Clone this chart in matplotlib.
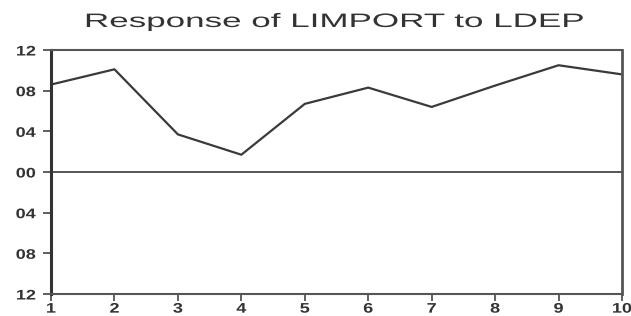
import matplotlib
matplotlib.use("Agg")
import matplotlib.pyplot as plt
from matplotlib import patheffects
from matplotlib.transforms import Affine2D

periods = [1, 2, 3, 4, 5, 6, 7, 8, 9, 10]
response = [0.086, 0.101, 0.037, 0.017, 0.067, 0.083, 0.064, 0.085, 0.105, 0.096]
ytick_vals = [0.12, 0.08, 0.04, 0.00, -0.04, -0.08, -0.12]
ytick_labels = ["12", "08", "04", "00", "04", "08", "12"]
xtick_labels = ["1", "2", "3", "4", "5", "6", "7", "8", "9", "10"]
title = "Response of LIMPORT to LDEP"

plt.rcParams['font.family'] = ['Liberation Sans', 'DejaVu Sans']


class StretchX(patheffects.AbstractPathEffect):
    """Stretch text horizontally around an anchor (left/center/right)."""
    def __init__(self, sx, anchor='center'):
        super().__init__()
        self.sx = sx
        self.anchor = anchor

    def draw_path(self, renderer, gc, tpath, affine, rgbFace=None):
        ext = tpath.get_extents()
        if self.anchor == 'left':
            a = ext.x0
        elif self.anchor == 'right':
            a = ext.x1
        else:
            a = 0.5 * (ext.x0 + ext.x1)
        pre = Affine2D().translate(-a, 0).scale(self.sx, 1).translate(a, 0)
        renderer.draw_path(gc, tpath, pre + affine, rgbFace)


fig = plt.figure(figsize=(6.31, 3.16), dpi=100)
ax = fig.add_axes([51/631, 1 - 294/316, (622 - 51)/631, (294 - 50)/316])

ax.plot(periods, response, color='#3a3a3a', linewidth=1.6)
ax.axhline(0, color='#555555', linewidth=1.4)

ax.set_xlim(1, 10)
ax.set_ylim(-0.12, 0.12)
ax.set_yticks(ytick_vals)
ax.set_yticklabels(ytick_labels, fontsize=10, fontweight='bold', color='#333333')
ax.set_xticks(periods)
ax.set_xticklabels(xtick_labels, fontsize=10, fontweight='bold', color='#333333')
ax.tick_params(axis='y', direction='out', length=6, width=1.2, color='#444444', pad=5)
ax.tick_params(axis='x', direction='out', length=5, width=1.2, color='#444444', pad=0.5)

for lab in ax.get_yticklabels():
    lab.set_path_effects([StretchX(1.3, 'right')])
for lab in ax.get_xticklabels():
    lab.set_path_effects([StretchX(1.3, 'center')])

for name, sp in ax.spines.items():
    sp.set_color('#555555')
    sp.set_linewidth(1.5)
ax.spines['left'].set_linewidth(2.2)
ax.spines['left'].set_color('#333333')
ax.spines['right'].set_linewidth(2.0)

t = fig.text(335/631, 1 - 27/316, title, ha='center', va='baseline',
             fontsize=14, color='#333333')
t.set_path_effects([StretchX(1.8, 'center')])

fig.savefig("out.png", dpi=100, facecolor='white')
